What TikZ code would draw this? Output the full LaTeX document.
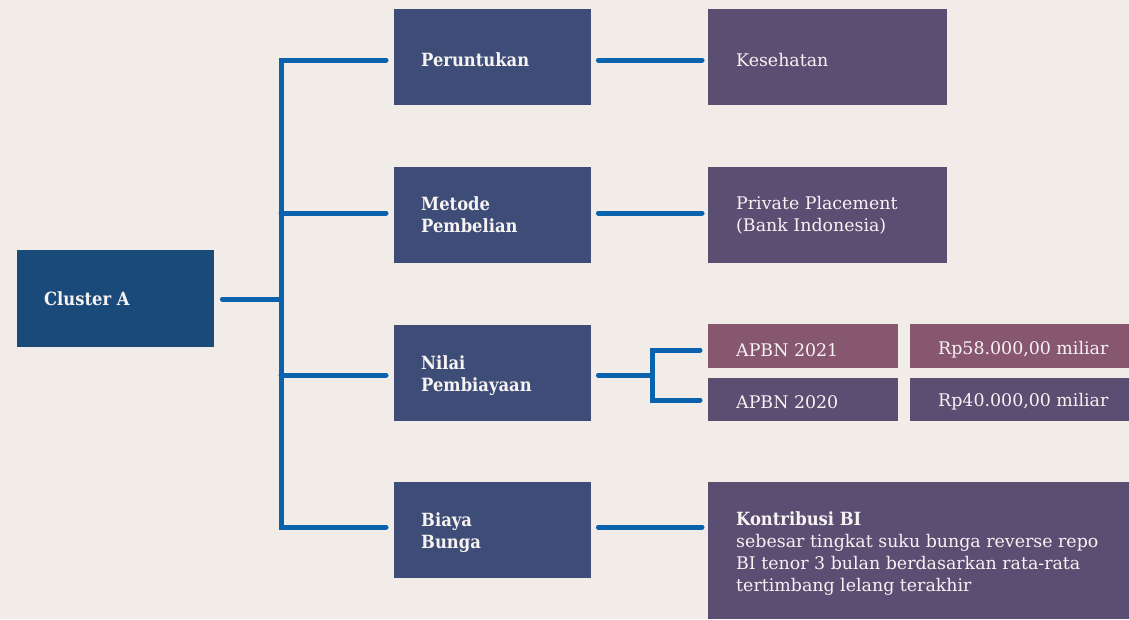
\documentclass[tikz,border=0pt]{standalone}
\usepackage{fontspec}
\setmainfont{DejaVu Serif}[BoldFont={DejaVu Serif Condensed Bold}]
\definecolor{bgcol}{HTML}{F1ECE8}
\definecolor{clustercol}{HTML}{1A4A7A}
\definecolor{midcol}{HTML}{3D4D77}
\definecolor{rightcol}{HTML}{5A4E72}
\definecolor{pinkcol}{HTML}{87566F}
\definecolor{linecol}{HTML}{0A62AE}
\definecolor{txtcol}{HTML}{F7F3F2}
\tikzset{
  box/.style={rectangle, anchor=north west, inner sep=0pt, draw=none},
  lbl/.style={anchor=west, inner sep=0pt, align=left, text=txtcol,
    font=\fontsize{17.4}{22}\selectfont},
  hd/.style={lbl, font=\fontsize{18.2}{22}\selectfont\bfseries},
  conn/.style={draw=linecol, line width=5pt, line cap=round, line join=miter}
}
\begin{document}
\begin{tikzpicture}[x=1pt,y=-1pt]
\fill[bgcol] (0,0) rectangle (1129,619);
\useasboundingbox (0,0) rectangle (1129,619);

% root box
\node[box, fill=clustercol, minimum width=197pt, minimum height=97pt] (cl) at (17,250) {};
\node[hd] (clT) at (44,299) {Cluster A};

% category boxes
\node[box, fill=midcol, minimum width=197pt, minimum height=96pt] (m1) at (394,9) {};
\node[box, fill=midcol, minimum width=197pt, minimum height=96pt] (m2) at (394,167) {};
\node[box, fill=midcol, minimum width=197pt, minimum height=96pt] (m3) at (394,325) {};
\node[box, fill=midcol, minimum width=197pt, minimum height=96pt] (m4) at (394,482) {};
\node[hd] (m1T) at (421,60) {Peruntukan};
\node[hd] (m2T) at (421,215) {Metode\\Pembelian};
\node[hd] (m3T) at (421,376) {Nilai\\Pembiayaan};
\node[hd] (m4T) at (421,533) {Biaya\\Bunga};

% value boxes
\node[box, fill=rightcol, minimum width=239pt, minimum height=96pt] (r1) at (708,9) {};
\node[box, fill=rightcol, minimum width=239pt, minimum height=96pt] (r2) at (708,167) {};
\node[box, fill=pinkcol, minimum width=190pt, minimum height=44pt] (a21) at (708,324) {};
\node[box, fill=pinkcol, minimum width=219pt, minimum height=44pt] (v21) at (910,324) {};
\node[box, fill=rightcol, minimum width=190pt, minimum height=43pt] (a20) at (708,378) {};
\node[box, fill=rightcol, minimum width=219pt, minimum height=43pt] (v20) at (910,378) {};
\node[box, fill=rightcol, minimum width=421pt, minimum height=137pt] (r4) at (708,482) {};

\node[lbl] (r1T) at (736,60) {Kesehatan};
\node[lbl] (r2T) at (736,215) {Private Placement\\(Bank Indonesia)};
\node[lbl] (a21T) at (736,350) {APBN 2021};
\node[lbl] (v21T) at (938,350) {Rp58.000,00 miliar};
\node[lbl] (a20T) at (736,402) {APBN 2020};
\node[lbl] (v20T) at (938,402) {Rp40.000,00 miliar};
\node[lbl] (r4T) at (736,554) {{\fontsize{18.2}{22}\selectfont\bfseries Kontribusi BI}\\sebesar tingkat suku bunga reverse repo\\BI tenor 3 bulan berdasarkan rata-rata\\tertimbang lelang terakhir};

% junction points
\coordinate (jt) at (281,60);
\coordinate (j2) at (281,213);
\coordinate (j3) at (281,375);
\coordinate (jb) at (281,527);
\coordinate (jc) at (281,299);
\coordinate (fk) at (652,375);
\coordinate (fa) at (652,350);
\coordinate (fb) at (652,400);

% tree connectors
\draw[conn, shorten <=8pt] (cl.east |- jc) -- (jc);
\draw[conn, shorten <=8pt, shorten >=8pt] (m1.west |- jt) -- (jt) -- (jb) -- (m4.west |- jb);
\draw[conn, shorten >=8pt] (j2) -- (m2.west |- j2);
\draw[conn, shorten >=8pt] (j3) -- (m3.west |- j3);

\draw[conn, shorten <=7pt, shorten >=6pt] (m1.east |- jt) -- (r1.west |- jt);
\draw[conn, shorten <=7pt, shorten >=6pt] (m2.east |- j2) -- (r2.west |- j2);
\draw[conn, shorten <=7pt, shorten >=6pt] (m4.east |- jb) -- (r4.west |- jb);
\draw[conn, shorten <=7pt] (m3.east |- fk) -- (fk);
\draw[conn, shorten <=8pt, shorten >=8pt] (a21.west |- fa) -- (fa) -- (fb) -- (a20.west |- fb);
\end{tikzpicture}
\end{document}
